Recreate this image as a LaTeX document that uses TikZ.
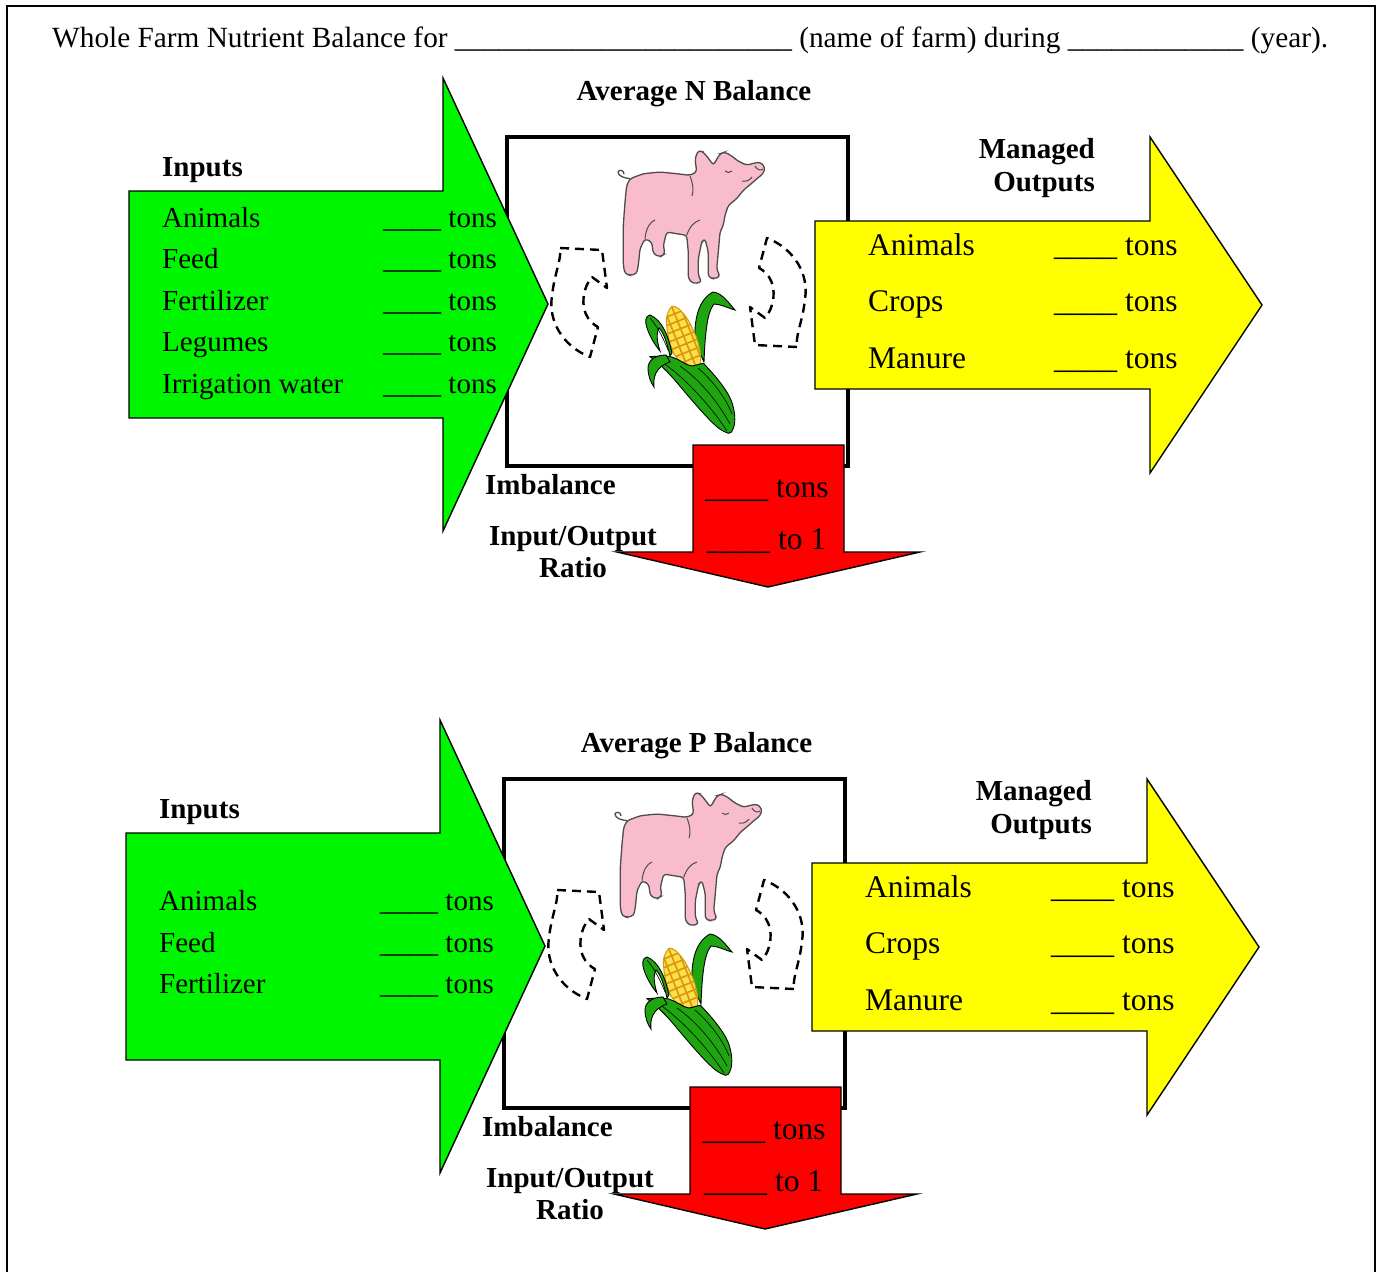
\documentclass[tikz,border=0pt]{standalone}
\usepackage{fontspec}
\setmainfont{Liberation Serif}
\definecolor{arrgreen}{RGB}{0,245,0}
\definecolor{arryellow}{RGB}{255,255,0}
\definecolor{arrred}{RGB}{255,0,0}
\definecolor{pigpink}{RGB}{248,188,204}
\definecolor{corngreen}{RGB}{30,165,15}
\definecolor{cobyellow}{RGB}{255,224,70}
\definecolor{coborange}{RGB}{215,150,20}
\tikzset{
  blockarrow/.style={draw=black, line width=1.4pt, line join=miter},
  farmbox/.style={draw=black, line width=4pt},
  loopline/.style={draw=black, line width=2.4pt, dash pattern=on 9pt off 6pt, line join=round},
  pigbody/.style={fill=pigpink, draw=black!70, line width=1.3pt, rounded corners=3pt},
  pigline/.style={draw=black!70, line width=1pt},
  leaf/.style={fill=corngreen, draw=black, line width=0.9pt},
  itemtext/.style={font=\fontsize{29}{34}\selectfont, inner sep=0pt, anchor=base west},
  bigtext/.style={font=\fontsize{31.5}{37}\selectfont, inner sep=0pt, anchor=base west},
  headtext/.style={font=\fontsize{29}{34}\selectfont\bfseries, inner sep=0pt},
  titletext/.style={font=\fontsize{29.3}{34}\selectfont, inner sep=0pt, anchor=base west},
}
\newcommand\ufour{\_\_\_\_}
\newcommand\farmdiagram{%
  % central box
  \draw[farmbox] (507,137) rectangle (848,466);
  % dashed recycling loops
  \draw[loopline] (560,248) -- (602,250) -- (607,288) -- (592,277)
    .. controls (583,287) and (580,306) .. (588,318)
    .. controls (591,322) and (594,325) .. (598,327) -- (590,357)
    .. controls (562,346) and (548,320) .. (552,296)
    .. controls (554,275) and (562,258) .. (560,248) -- cycle;
  \draw[loopline, rotate around={180:(678.5,297.5)}] (560,248) -- (602,250) -- (607,288) -- (592,277)
    .. controls (583,287) and (580,306) .. (588,318)
    .. controls (591,322) and (594,325) .. (598,327) -- (590,357)
    .. controls (562,346) and (548,320) .. (552,296)
    .. controls (554,275) and (562,258) .. (560,248) -- cycle;
  % pig
  \draw[pigbody] (630,178.7) -- (643.3,173.7) -- (660,172) -- (676.7,173.7) -- (690,175.3) -- (696.7,172)
    -- (695,158.7) -- (698.3,150.3) -- (703.3,152) -- (710,160.3) -- (713.3,165.3)
    -- (720,153.7) -- (725,152) -- (733.3,157) -- (736.7,160.3) -- (746.7,165.3)
    -- (751.7,163.7) -- (760,162) -- (765,167) -- (763.3,173.7) -- (756.7,178.7) -- (753.3,182)
    -- (743.3,190.3) -- (736.7,198.7) -- (728.3,205.3) -- (725,215.3) -- (723.3,225.3) -- (720,232)
    -- (718.3,252) -- (716.7,268.7) -- (720,277) -- (713.3,278.7) -- (708.3,277) -- (708.3,252)
    -- (705,238.7) -- (701.7,242) -- (698.3,258.7) -- (698.3,275.3) -- (701.7,282) -- (693.3,283.7)
    -- (688.3,278.7) -- (688.3,252) -- (686.7,235.3) -- (676.7,233.7) -- (666.7,232)
    -- (663.3,245.3) -- (665,253.7) -- (660,257) -- (653.3,253.7) -- (651.7,242) -- (645,238.7)
    -- (640,248.7) -- (638.3,265.3) -- (636.7,273.7) -- (630,275.3) -- (625,273.7) -- (623.3,265.3)
    -- (623.3,248.7) -- (623.3,225.3) -- (625,202) -- (626.7,185.3) -- cycle;
  \draw[pigline, line width=1.3pt] (630,178.7) .. controls (624,178) and (618,176) .. (618,172)
    .. controls (619,169) and (624,170) .. (624,174);
  \draw[pigline] (725,171) .. controls (727,173) and (730,173) .. (732,171);
  \draw[pigline] (742,181) .. controls (746,182) and (750,180) .. (752,177);
  \draw[pigline] (755,166) .. controls (757,170) and (761,171) .. (763,169);
  \draw[pigline] (690,176) .. controls (693,184) and (694,190) .. (692,196);
  \draw[pigline] (686.7,235.3) .. controls (690,226) and (694,222) .. (700,220);
  \draw[pigline] (645,238.7) .. controls (646,228) and (650,222) .. (655,220);
  % corn: tall leaf behind the cob
  \draw[leaf] (695,342) .. controls (694,320) and (698,300) .. (713,292)
    .. controls (722,293) and (728,302) .. (735,310)
    .. controls (728,308) and (720,304) .. (714,304)
    .. controls (707,312) and (705,335) .. (704,362) -- cycle;
  % cob
  \fill[cobyellow] plot[smooth cycle] coordinates {(671.7,306.7) (679,309) (688,320) (696.7,338.3) (700.5,355) (699,367) (685,365) (674,354) (668.5,338) (666.5,318)};
  \begin{scope}
    \clip plot[smooth cycle] coordinates {(671.7,306.7) (679,309) (688,320) (696.7,338.3) (700.5,355) (699,367) (685,365) (674,354) (668.5,338) (666.5,318)};
    \begin{scope}[rotate around={22:(684,337)}]
      \foreach \gy in {296,304,...,380} {\draw[coborange, line width=1.6pt] (650,\gy) -- (720,\gy);}
      \foreach \gx in {660,668,...,710} {\draw[coborange, line width=1.6pt] (\gx,290) -- (\gx,390);}
    \end{scope}
  \end{scope}
  \draw[coborange, line width=1pt] plot[smooth cycle] coordinates {(671.7,306.7) (679,309) (688,320) (696.7,338.3) (700.5,355) (699,367) (685,365) (674,354) (668.5,338) (666.5,318)};
  % upper left leaf
  \draw[leaf] (672,353) .. controls (668,335) and (662,320) .. (650,315)
    .. controls (645,316) and (645,322) .. (647,328)
    .. controls (650,337) and (655,345) .. (660,351)
    .. controls (657,342) and (656,333) .. (659,328)
    .. controls (664,333) and (667,343) .. (670,356) -- cycle;
  \draw[black, line width=0.6pt] (650,318) .. controls (656,325) and (662,335) .. (668,350);
  % main husk
  \draw[leaf] (650,356.7) .. controls (660,356) and (668,356) .. (672,357)
    .. controls (680,360) and (688,366) .. (692,366)
    .. controls (697,365) and (700,364) .. (703.3,363.3)
    .. controls (712,372) and (726,388) .. (731,400)
    .. controls (735,410) and (736,422) .. (733.3,428.3)
    .. controls (732,432) and (730,434) .. (728.3,433.3)
    .. controls (722,431) and (718,428) .. (715,425)
    .. controls (705,416) and (690,398) .. (681.7,388.3)
    .. controls (675,380) and (665,368) .. (650,356.7) -- cycle;
  \draw[black, line width=0.6pt] (662,362) .. controls (685,378) and (710,405) .. (727,431);
  \draw[black, line width=0.6pt] (680,366) .. controls (700,380) and (718,402) .. (730,424);
  \draw[black, line width=0.6pt] (698,368) .. controls (712,380) and (726,398) .. (732,414);
  % lower left leaf
  \draw[leaf] (666,355) .. controls (656,355) and (648,360) .. (648,368)
    .. controls (648,376) and (651,383) .. (654,387)
    .. controls (653,378) and (655,367) .. (670,362) -- cycle;
  % block arrows
  \draw[blockarrow, fill=arrgreen] (129,191) -- (443,191) -- (443,78) -- (548,304) -- (443,531) -- (443,418) -- (129,418) -- cycle;
  \draw[blockarrow, fill=arryellow] (815,221) -- (1150,221) -- (1150,137) -- (1262,305) -- (1150,473) -- (1150,389) -- (815,389) -- cycle;
  \draw[blockarrow, fill=arrred] (693,445) -- (844,445) -- (844,552) -- (920,552) -- (768,587) -- (617,552) -- (693,552) -- cycle;
  % common labels
  \node[headtext, anchor=base west] (inp) at (162,176) {Inputs};
  \node[headtext, anchor=base east] (mgd) at (1095,158) {Managed};
  \node[headtext, anchor=base east] (outs) at (1095,191) {Outputs};
  \node[bigtext] (oanim) at (868,255) {Animals};
  \node[bigtext] (ocrop) at (868,311) {Crops};
  \node[bigtext] (oman) at (868,368) {Manure};
  \node[bigtext] (oanimt) at (1054,255) {\ufour{} tons};
  \node[bigtext] (ocropt) at (1054,311) {\ufour{} tons};
  \node[bigtext] (omant) at (1054,368) {\ufour{} tons};
  \node[bigtext] (imbt) at (705,497) {\ufour{} tons};
  \node[bigtext] (ratt) at (707,549) {\ufour{} to 1};
  \node[headtext, anchor=base west] (imb) at (485,494) {Imbalance};
  \node[headtext, anchor=base] (io) at (573,545) {Input/Output};
  \node[headtext, anchor=base] (ratio) at (573,577) {Ratio};
}
\begin{document}
\begin{tikzpicture}[x=1pt,y=-1pt]
  \useasboundingbox (0,0) rectangle (1377,1272);
  \fill[white] (0,0) rectangle (1377,1272);
  \draw[line width=2.2pt] (7,1272) -- (7,6) -- (1375,6) -- (1375,1272);
  \node[titletext] (title) at (52,47) {Whole Farm Nutrient Balance for \_\_\_\_\_\_\_\_\_\_\_\_\_\_\_\_\_\_\_\_\_\_\_ (name of farm) during \_\_\_\_\_\_\_\_\_\_\_\_ (year).};
  % N balance
  \begin{scope}[name prefix=N-]
    \farmdiagram
    \node[headtext, anchor=base] (head) at (694,100) {Average N Balance};
    \node[itemtext] (i1) at (162,227) {Animals};
    \node[itemtext] (i2) at (162,268.5) {Feed};
    \node[itemtext] (i3) at (162,310) {Fertilizer};
    \node[itemtext] (i4) at (162,351.5) {Legumes};
    \node[itemtext] (i5) at (162,393) {Irrigation water};
    \node[itemtext] (t1) at (383,227) {\ufour{} tons};
    \node[itemtext] (t2) at (383,268.5) {\ufour{} tons};
    \node[itemtext] (t3) at (383,310) {\ufour{} tons};
    \node[itemtext] (t4) at (383,351.5) {\ufour{} tons};
    \node[itemtext] (t5) at (383,393) {\ufour{} tons};
  \end{scope}
  % P balance
  \begin{scope}[shift={(-3,642)}, name prefix=P-]
    \farmdiagram
    \node[headtext, anchor=base] (head) at (699.5,110) {Average P Balance};
    \node[itemtext] (i1) at (162,268.5) {Animals};
    \node[itemtext] (i2) at (162,310) {Feed};
    \node[itemtext] (i3) at (162,351.5) {Fertilizer};
    \node[itemtext] (t1) at (383,268.5) {\ufour{} tons};
    \node[itemtext] (t2) at (383,310) {\ufour{} tons};
    \node[itemtext] (t3) at (383,351.5) {\ufour{} tons};
  \end{scope}
\end{tikzpicture}
\end{document}
